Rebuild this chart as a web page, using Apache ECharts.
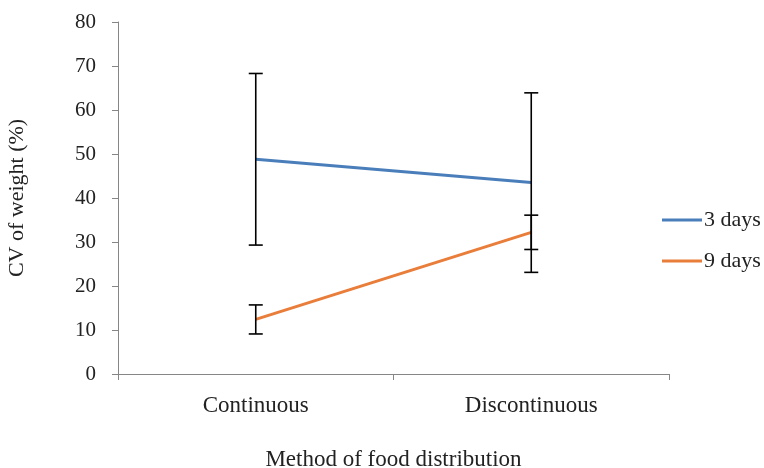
<!DOCTYPE html>
<html><head><meta charset="utf-8">
<script src="https://cdn.jsdelivr.net/npm/echarts@6/dist/echarts.min.js"></script>
<style>html,body{margin:0;padding:0;background:#fff}#c{width:764px;height:468px}</style>
</head><body><div id="c"></div>
<script>
const categories = ['Continuous', 'Discontinuous'];
const days3 = [48.8, 43.5];
const days3Err = [19.5, 20.4];
const days9 = [12.4, 32.2];
const days9Err = [3.3, 3.9];
const yTicks = [0, 10, 20, 30, 40, 50, 60, 70, 80];

const FONT = '"Liberation Serif", "Times New Roman", serif';
function errData(vals, errs) { return vals.map((v, i) => [i, v - errs[i], v + errs[i]]); }
function renderErr(params, api) {
  const x = api.value(0);
  const lo = api.coord([x, api.value(1)]);
  const hi = api.coord([x, api.value(2)]);
  const w = 7;
  const st = { stroke: '#000', lineWidth: 1.6 };
  return { type: 'group', children: [
    { type: 'line', shape: { x1: lo[0], y1: lo[1], x2: hi[0], y2: hi[1] }, style: st },
    { type: 'line', shape: { x1: lo[0] - w, y1: lo[1], x2: lo[0] + w, y2: lo[1] }, style: st },
    { type: 'line', shape: { x1: hi[0] - w, y1: hi[1], x2: hi[0] + w, y2: hi[1] }, style: st }
  ]};
}
const chart = echarts.init(document.getElementById('c'));
chart.setOption({
  animation: false,
  textStyle: { fontFamily: FONT },
  grid: { left: 118, right: 95, top: 22, bottom: 94, containLabel: false, outerBoundsMode: 'none' },
  legend: {
    orient: 'vertical', left: 657, top: 204, itemWidth: 40, itemHeight: 3, itemGap: 19,
    icon: 'rect',
    textStyle: { fontFamily: FONT, fontSize: 22, color: '#222', padding: [0, 0, 0, -3] },
    data: ['3 days', '9 days']
  },
  xAxis: {
    type: 'category', data: categories, boundaryGap: true,
    name: 'Method of food distribution', nameLocation: 'middle', nameGap: 74,
    nameTextStyle: { fontFamily: FONT, fontSize: 23, color: '#222' },
    axisLine: { lineStyle: { color: '#868686', width: 1 } },
    axisTick: { show: true, length: 6, lineStyle: { color: '#868686' } },
    axisLabel: { fontFamily: FONT, fontSize: 23, color: '#222', margin: 20 }
  },
  yAxis: {
    type: 'value', min: yTicks[0], max: yTicks[yTicks.length - 1], interval: 10,
    name: 'CV of weight (%)', nameLocation: 'middle', nameGap: 90, nameRotate: 90,
    nameTextStyle: { fontFamily: FONT, fontSize: 22, color: '#222' },
    axisLine: { show: true, lineStyle: { color: '#868686', width: 1 } },
    axisTick: { show: true, length: 6, lineStyle: { color: '#868686' } },
    axisLabel: { fontFamily: FONT, fontSize: 21, color: '#222', margin: 22 },
    splitLine: { show: false }
  },
  series: [
    { name: '3 days', type: 'line', data: days3, symbol: 'none', lineStyle: { color: '#4A7EBB', width: 3 }, itemStyle: { color: '#4A7EBB' }, z: 2 },
    { name: '9 days', type: 'line', data: days9, symbol: 'none', lineStyle: { color: '#E97D3A', width: 3 }, itemStyle: { color: '#E97D3A' }, z: 2 },
    { name: 'err3', type: 'custom', data: errData(days3, days3Err), renderItem: renderErr, encode: { x: 0, y: [1, 2] }, z: 3 },
    { name: 'err9', type: 'custom', data: errData(days9, days9Err), renderItem: renderErr, encode: { x: 0, y: [1, 2] }, z: 3 }
  ]
});
</script></body></html>
